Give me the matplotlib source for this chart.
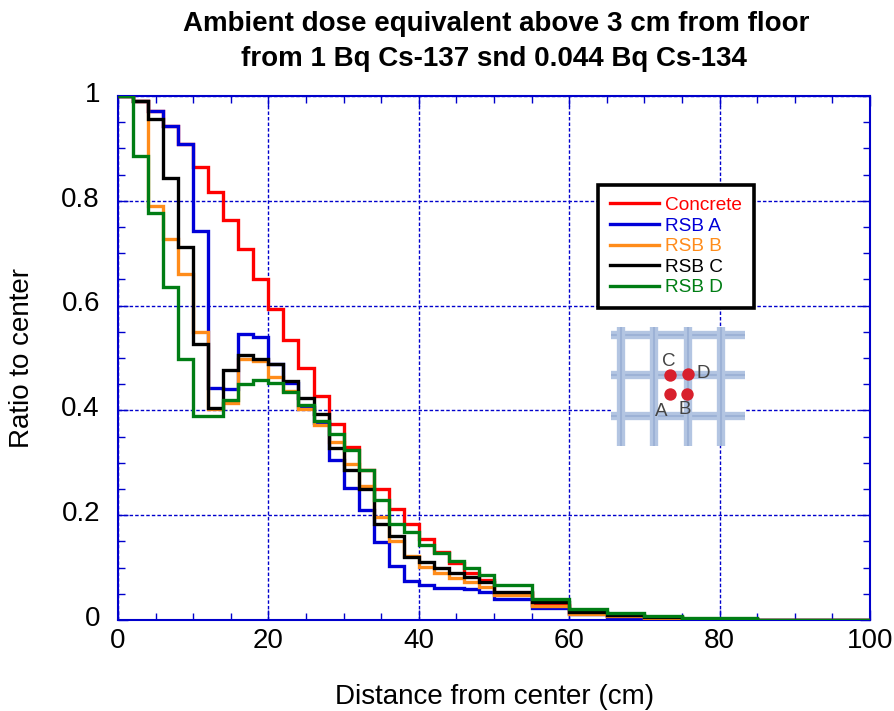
import numpy as np
import matplotlib
matplotlib.use('Agg')
import matplotlib.pyplot as plt
from matplotlib.ticker import MultipleLocator
from matplotlib.transforms import ScaledTranslation

plt.rcParams['font.family'] = ['Liberation Sans', 'DejaVu Sans']

edges = [0, 2, 4, 6, 8, 10, 12, 14, 16, 18, 20, 22, 24, 26, 28, 30, 32, 34, 36, 38, 40,
         42, 44, 46, 48, 50, 55, 60, 65, 70, 75, 80, 85, 90, 95, 100]

concrete = [1, 0.99, 0.971, 0.942, 0.908, 0.864, 0.817, 0.763, 0.708, 0.65, 0.593, 0.535, 0.48,
            0.428, 0.375, 0.331, 0.286, 0.25, 0.212, 0.183, 0.155, 0.13, 0.109, 0.09, 0.076,
            0.052, 0.029, 0.014, 0.008, 0.004, 0.002, 0.002, 0, 0, 0]
rsb_a = [1, 0.991, 0.971, 0.942, 0.908, 0.742, 0.442, 0.44, 0.546, 0.54, 0.488, 0.452, 0.406,
         0.376, 0.305, 0.252, 0.21, 0.149, 0.103, 0.074, 0.067, 0.061, 0.061, 0.059, 0.053,
         0.04, 0.023, 0.011, 0.006, 0.003, 0.001, 0.001, 0, 0, 0]
rsb_b = [1, 0.991, 0.791, 0.728, 0.66, 0.55, 0.403, 0.414, 0.498, 0.494, 0.464, 0.437, 0.403,
         0.372, 0.34, 0.297, 0.256, 0.196, 0.151, 0.122, 0.101, 0.09, 0.08, 0.072, 0.063,
         0.048, 0.027, 0.012, 0.007, 0.003, 0.001, 0.001, 0, 0, 0]
rsb_c = [1, 0.991, 0.957, 0.843, 0.711, 0.526, 0.404, 0.477, 0.506, 0.498, 0.488, 0.456, 0.424,
         0.393, 0.328, 0.286, 0.25, 0.183, 0.16, 0.12, 0.11, 0.10, 0.09, 0.082, 0.073,
         0.053, 0.034, 0.016, 0.009, 0.005, 0.002, 0.002, 0, 0, 0]
rsb_d = [1, 0.885, 0.776, 0.635, 0.498, 0.389, 0.389, 0.42, 0.45, 0.458, 0.452, 0.435, 0.41,
         0.38, 0.355, 0.324, 0.286, 0.229, 0.183, 0.168, 0.143, 0.128, 0.113, 0.099, 0.086,
         0.067, 0.04, 0.021, 0.013, 0.008, 0.004, 0.004, 0, 0, 0]

series = [('Concrete', concrete, '#ff0000'), ('RSB A', rsb_a, '#0000d8'), ('RSB B', rsb_b, '#ff8c1a'),
          ('RSB C', rsb_c, '#000000'), ('RSB D', rsb_d, '#007d14')]

# inset sketch of the rebar grid
bar_h = [335, 375, 416]
bar_v = [621, 654, 688, 721]
dots_x = [670, 688, 670, 687]
dots_y = [375, 374, 394, 394]
marks = [('C', 669, 362), ('D', 703, 374), ('A', 661, 411), ('B', 685, 409)]

W, H = 894, 711
BLUE = '#0000cc'
fig = plt.figure(figsize=(W / 100, H / 100), dpi=100)
ax = fig.add_axes([118 / W, 1 - 620 / H, 752 / W, 524 / H])

for name, vals, col in series:
    ax.stairs(vals, edges, color=col, lw=2.4, label=name, zorder=3, baseline=None)

ax.set_xlim(0, 100)
ax.set_ylim(0, 1)
ax.xaxis.set_major_locator(MultipleLocator(20))
ax.xaxis.set_minor_locator(MultipleLocator(5))
ax.yaxis.set_major_locator(MultipleLocator(0.2))
ax.yaxis.set_minor_locator(MultipleLocator(0.05))
ax.yaxis.set_major_formatter(lambda v, p: '%g' % round(v, 1))
ax.grid(True, which='major', color=BLUE, ls=(0, (2.5, 1.5)), lw=1.0)
ax.tick_params(which='both', direction='in', top=True, right=True, color=BLUE, labelsize=20)
ax.tick_params(which='major', length=7, width=1, pad=6)
ax.tick_params(which='minor', length=5, width=1)
ax.tick_params(axis='y', which='major', pad=13)
for lab in ax.get_yticklabels():
    lab.set_transform(lab.get_transform() + ScaledTranslation(0, 3 / 72, fig.dpi_scale_trans))
for s in ax.spines.values():
    s.set_color(BLUE)
    s.set_linewidth(1.5)
ax.set_axisbelow(True)

fig.text(495 / W, 1 - 697 / H, 'Distance from center (cm)', ha='center', va='center', fontsize=20)
fig.text(22 / W, 1 - 358 / H, 'Ratio to center', rotation=90, ha='center', va='center', fontsize=20)
fig.text(496 / W, 1 - 24 / H, 'Ambient dose equivalent above 3 cm from floor', ha='center', va='center',
         fontsize=20, fontweight='bold')
fig.text(494 / W, 1 - 59 / H, 'from 1 Bq Cs-137 snd 0.044 Bq Cs-134', ha='center', va='center',
         fontsize=20, fontweight='bold')

leg = ax.legend(loc='upper left', bbox_to_anchor=(598 / W, 1 - 185 / H), bbox_transform=fig.transFigure,
                frameon=True, fancybox=False, framealpha=1, edgecolor='black', fontsize=13.7,
                labelcolor='linecolor', handlelength=2.6, handletextpad=0.3, labelspacing=0.17,
                borderpad=0.62, borderaxespad=0)
leg.get_frame().set_linewidth(2.6)
leg.set_zorder(10)

# inset picture
iax = fig.add_axes([611 / W, 1 - 446 / H, 134 / W, 119 / H], zorder=5)
iax.set_xlim(611, 745)
iax.set_ylim(446, 327)
iax.axis('off')
iax.add_patch(plt.Rectangle((611, 327), 134, 119, color='white', zorder=0))
for y in bar_h:
    iax.plot([611, 745], [y, y], color='#b3c5e2', lw=6, solid_capstyle='butt', zorder=1)
    iax.plot([611, 745], [y, y], color='#9db2d6', lw=1.5, solid_capstyle='butt', zorder=1)
for x in bar_v:
    iax.plot([x, x], [327, 446], color='#b3c5e2', lw=6, solid_capstyle='butt', zorder=1)
    iax.plot([x, x], [327, 446], color='#9db2d6', lw=1.5, solid_capstyle='butt', zorder=1)
iax.scatter(dots_x, dots_y, s=80, color='#d8202c', zorder=3, linewidths=0)
for t, x, y in marks:
    iax.text(x, y, t, ha='center', va='center', fontsize=13.5, color='#444444', zorder=4)

fig.savefig('out.png', dpi=100)
